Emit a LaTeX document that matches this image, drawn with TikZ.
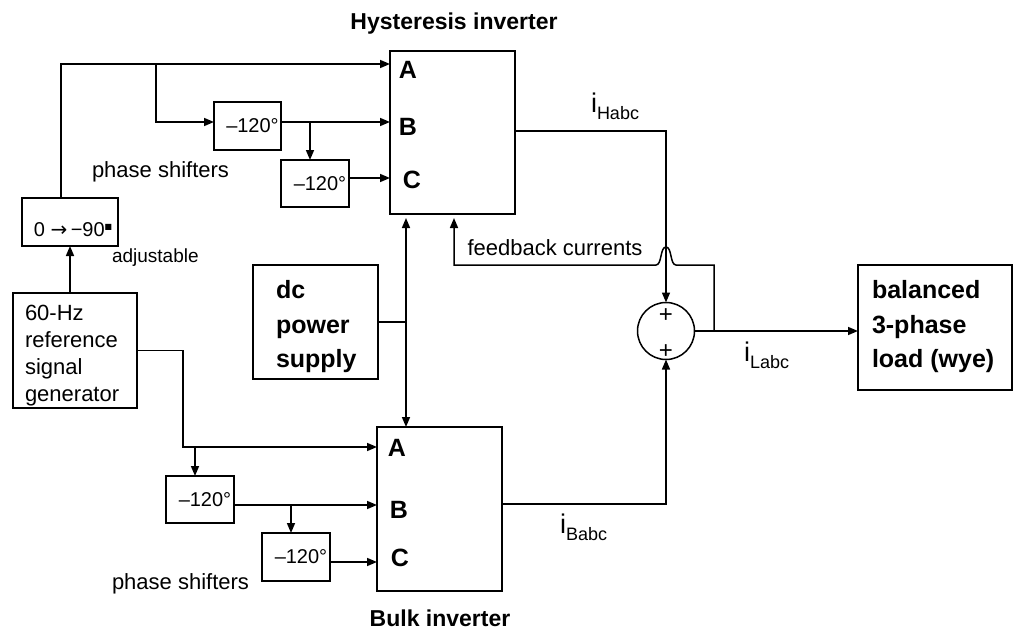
\documentclass[tikz,border=0pt]{standalone}
\usepackage{fontspec}
\setmainfont{Liberation Sans}
\newfontfamily\symfont{DejaVu Sans}
\usetikzlibrary{arrows.meta}
\newcommand{\cur}[1]{{\fontsize{27}{27}\selectfont i}\raisebox{-7pt}{\fontsize{18}{18}\selectfont #1}}
\begin{document}
\begin{tikzpicture}[x=1pt,y=-1pt,
  every node/.style={inner sep=0pt, outer sep=0pt},
  box/.style={draw, line width=1.5pt, fill=white},
  tip/.tip={Triangle[length=10pt,width=8pt]},
  arr/.style={line width=1.5pt, -tip},
  arrb/.style={line width=1.5pt, tip-tip},
  ln/.style={line width=1.5pt},
  reg/.style={font=\fontsize{22}{27}\selectfont},
  pst/.style={font=\fontsize{20}{24}\selectfont},
  ttl/.style={font=\fontsize{23}{27}\selectfont\bfseries},
  big/.style={font=\fontsize{25}{34.5}\selectfont\bfseries, align=left},
  abc/.style={font=\fontsize{25}{28}\selectfont\bfseries}
]
\useasboundingbox (0,0) rectangle (1013,634);

% boxes
\node[box, minimum width=125, minimum height=163] (H) at (452.5,132.5) {};
\node[box, minimum width=125, minimum height=164] (B) at (439.5,509) {};
\node[box, minimum width=96, minimum height=48] (adj) at (70,222) {};
\node[box, minimum width=124, minimum height=115] (gen) at (75,350.5) {};
\node[box, minimum width=67, minimum height=48, pst] (ps1) at (247.5,126) {\hspace*{10pt}–120°};
\node[box, minimum width=68, minimum height=47, pst] (ps2) at (315,183.5) {\hspace*{10pt}–120°};
\node[box, minimum width=68, minimum height=47, pst] (ps3) at (200,499.5) {\hspace*{10pt}–120°};
\node[box, minimum width=68, minimum height=48, pst] (ps4) at (296,557) {\hspace*{10pt}–120°};
\node[box, minimum width=125, minimum height=114] (dc) at (315.5,322) {};
\node[box, minimum width=154, minimum height=125] (load) at (935,327.5) {};
\node[draw, line width=1.5pt, circle, minimum size=57] (sum) at (666,331) {};

% texts
\node[ttl, anchor=base] (th) at (454,30) {Hysteresis inverter};
\node[ttl, anchor=base] (tb) at (440,626) {Bulk inverter};
\node[abc] (ha) at (408,70) {A};
\node[abc] (hb) at (408,127) {B};
\node[abc] (hc) at (412,180) {C};
\node[abc] (ba) at (397,448) {A};
\node[abc] (bb) at (399,510) {B};
\node[abc] (bc) at (400,558) {C};
\node[font=\fontsize{20}{24}\selectfont, anchor=base west] (adjt) at (34,236) {0 {\symfont →}\,−90\raisebox{7pt}{\symfont\fontsize{8}{8}\selectfont ■}};
\node[font=\fontsize{19}{22}\selectfont, anchor=base west] (adjl) at (112,262) {adjustable};
\node[reg, anchor=base west] (psl1) at (92,177) {phase shifters};
\node[reg, anchor=base west] (psl2) at (112,589) {phase shifters};
\node[reg, anchor=west, align=left] (gent) at (25,356) {60-Hz\\reference\\signal\\generator};
\node[big, anchor=west] (dct) at (276,327) {dc\\power\\supply};
\node[big, anchor=west] (loadt) at (872,327) {balanced\\3-phase\\load (wye)};
\node[reg, anchor=base] (fb) at (555,255) {feedback currents};
\node[anchor=base west] (ih) at (591,113) {\cur{Habc}};
\node[anchor=base west] (il) at (744,361) {\cur{Labc}};
\node[anchor=base west] (ib) at (560,533) {\cur{Babc}};
\node[font=\fontsize{24}{24}\selectfont] (p1) at (666,316) {+};
\node[font=\fontsize{24}{24}\selectfont] (p2) at (666,352) {+};

% coordinates
\coordinate (yb) at (0,122);
\coordinate (yc) at (0,178);
\coordinate (zb) at (0,505);
\coordinate (zc) at (0,562);
\coordinate (t1) at (61,64);
\coordinate (t2) at (156,64);
\coordinate (t3) at (310,122);
\coordinate (t4) at (183,447);
\coordinate (t5) at (195,447);
\coordinate (t6) at (291,505);
\coordinate (t7) at (406,322);
\coordinate (ho) at (0,131);
\coordinate (bo) at (0,504);
\coordinate (f1) at (714,331);
\coordinate (f2) at (714,265);
\coordinate (h1) at (676,265);
\coordinate (h0) at (666,247);
\coordinate (h2) at (656,265);
\coordinate (f3) at (454,265);

% hysteresis inputs
\draw[arr] (t1 |- adj.north) -- (t1) -- (H.west |- t1);
\draw[arr] (t2) |- (ps1.west |- yb);
\draw[arr] (ps1.east |- yb) -- (H.west |- yb);
\draw[arr] (t3) -- (t3 |- ps2.north);
\draw[arr] (ps2.east |- yc) -- (H.west |- yc);
\draw[arr] (adj.south |- gen.north) -- (adj.south);

% bulk inputs
\draw[arr] (gen.east) -| (t4) -- (B.west |- t4);
\draw[arr] (t5) -- (t5 |- ps3.north);
\draw[arr] (ps3.east |- zb) -- (B.west |- zb);
\draw[arr] (t6) -- (t6 |- ps4.north);
\draw[arr] (ps4.east |- zc) -- (B.west |- zc);

% dc supply
\draw[ln] (dc.east |- t7) -- (t7);
\draw[arrb, shorten <=4pt] (t7 |- H.south) -- (t7 |- B.north);

% outputs
\draw[arr] (H.east |- ho) -| (sum.north);
\draw[arr] (B.east |- bo) -| (sum.south);
\draw[arr] (sum.east) -- (load.west |- sum.east);

% feedback
\draw[arr, shorten >=4pt] (f1) -- (f2) -- (h1) .. controls (670,265) and (672,247) .. (h0) .. controls (660,247) and (662,265) .. (h2) -- (f3) -- (f3 |- H.south);
\end{tikzpicture}
\end{document}
